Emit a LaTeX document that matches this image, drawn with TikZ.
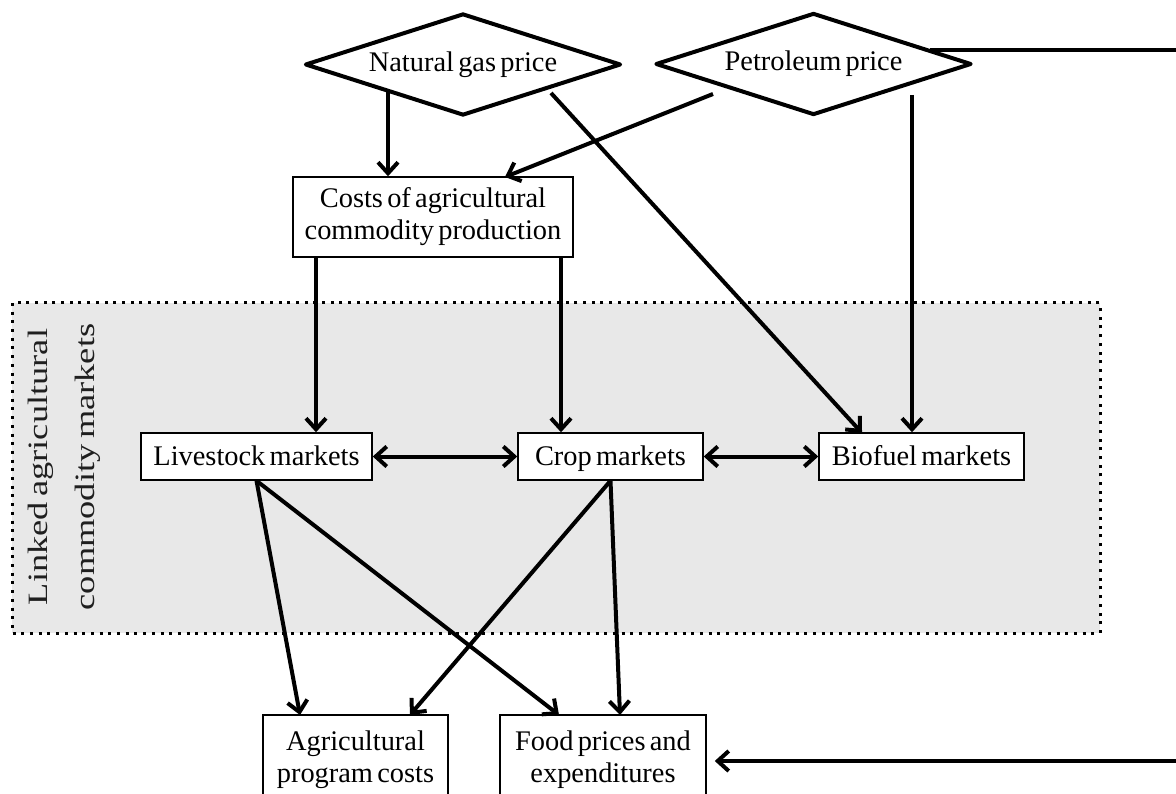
\documentclass[tikz,border=0pt]{standalone}
\usepackage{fontspec}
\setmainfont{Liberation Serif}[WordSpace=0.6]
\usetikzlibrary{arrows.meta,shapes.geometric,calc}
\begin{document}
\begin{tikzpicture}[x=1pt,y=-1pt,
  txt/.style={font=\fontsize{28.4}{32}\selectfont},
  box/.style={txt, draw, line width=1.5pt, fill=white, inner sep=0pt, align=center},
  onebox/.style={box, text height=22.7pt, text depth=5.7pt, minimum height=47pt},
  dia/.style={txt, draw, shape=diamond, aspect=3, line width=4pt, line join=round, inner sep=0pt,
              minimum width=316pt, minimum height=102pt, fill=white},
  tip/.tip={Straight Barb[length=11pt,width=20pt]},
  arr/.style={line width=4pt, -tip},
  darr/.style={line width=4pt, tip-tip},
  thick line/.style={line width=4pt},
  region/.style={draw, line width=3pt, dash pattern=on 3pt off 5.7pt, fill=black!9}
]
\useasboundingbox (0,0) rectangle (1176,794);
% shaded region
\draw[region] (12,303) rectangle (1100,633);
\node[rotate=90, xscale=1.3, align=center, text=black!88, font=\fontsize{28}{47}\selectfont] (lbl) at (64.5,467)
  {Linked agricultural\\commodity markets};
% nodes
\node[dia] (ng) at (463,64.5) {Natural gas price};
\node[dia] (pp) at (813.5,64) {Petroleum price};
\node[box, minimum width=280pt, minimum height=80pt] (costs) at (433,217)
  {Costs of agricultural\\commodity production};
\node[onebox, minimum width=231pt] (live) at (256.5,456.5) {Livestock markets};
\node[onebox, minimum width=185pt] (crop) at (610.5,456.5) {Crop markets};
\node[onebox, minimum width=205pt] (bio) at (921.5,456.5) {Biofuel markets};
\node[box, minimum width=185pt, minimum height=90pt] (agri) at (355.5,760) {Agricultural\\program costs};
\node[box, minimum width=206pt, minimum height=90pt] (food) at (603,760) {Food prices and\\expenditures};
% helper coordinates
\coordinate (ngA) at (388,92);
\coordinate (ngB) at (551,93);
\coordinate (ppA) at (713,94);
\coordinate (ppB) at (912,95);
\coordinate (ppC) at ($(pp.north)!0.73!(pp.east)$);
\coordinate (r1) at (1176,49);
\coordinate (r2) at (1176,761);
\coordinate (costA) at (316,257);
\coordinate (costB) at (561,257);
% connectors
\draw[arr] (ngA) -- (ngA |- costs.north);
\draw[arr] (ppA) -- (505,177);
\draw[arr] (costA) -- (costA |- live.north);
\draw[arr] (costB) -- (costB |- crop.north);
\draw[arr] (ngB) -- (862,433);
\draw[arr] (ppB) -- (ppB |- bio.north);
\draw[darr] (live.east) -- (crop.west);
\draw[darr] (crop.east) -- (bio.west);
\draw[arr] (live.south) -- (300,715);
\draw[arr] (live.south) -- (559,715);
\draw[arr] (crop.south) -- (410,715);
\draw[arr] (crop.south) -- (620,715);
\draw[thick line] (ppC) -- (ppC -| r1);
\draw[arr, shorten >=8pt] (r2) -- (r2 -| food.east);
\end{tikzpicture}
\end{document}
